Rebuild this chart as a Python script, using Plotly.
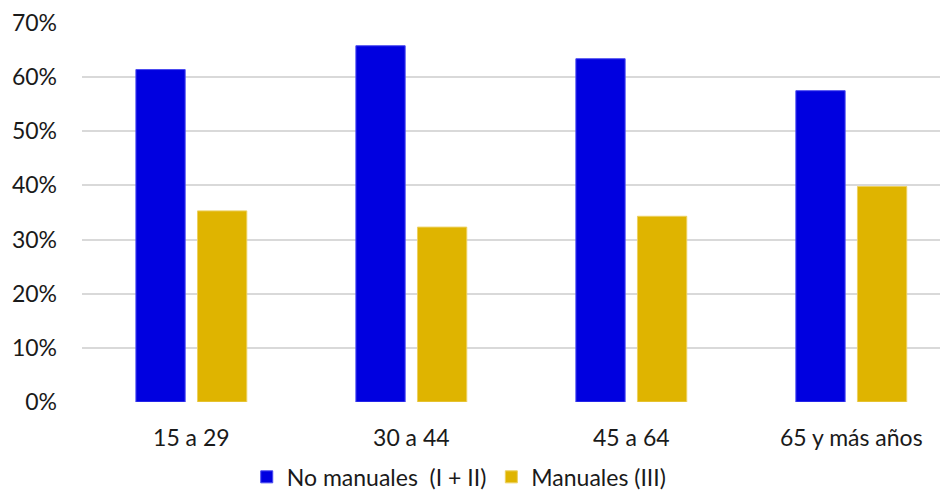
import plotly.graph_objects as go

categories = ["15 a 29", "30 a 44", "45 a 64", "65 y más años"]
no_manuales = [61.4, 65.8, 63.4, 57.5]
manuales = [35.3, 32.3, 34.3, 39.8]
series_names = ["No manuales  (I + II)", "Manuales (III)"]
y_ticks = [0, 10, 20, 30, 40, 50, 60, 70]
y_tick_labels = [f"{v}%" for v in y_ticks]

BLUE = "#0000E0"
GOLD = "#DFB400"
FONT = "Lato, 'Open Sans', sans-serif"

fig = go.Figure()
fig.add_trace(go.Bar(x=categories, y=no_manuales, name=series_names[0],
                     marker=dict(color=BLUE, line=dict(color="#4a4af0", width=1))))
fig.add_trace(go.Bar(x=categories, y=manuales, name=series_names[1],
                     marker=dict(color=GOLD, line=dict(color="#ecd060", width=1))))

# page body has an 8px margin: compensate so the plot lands where the reference has it
fig.update_layout(
    width=948, height=491,
    margin=dict(l=74, r=0, t=15, b=97, autoexpand=False),
    paper_bgcolor="white", plot_bgcolor="white",
    font=dict(family=FONT, size=23, color="#1a1a1a"),
    barmode="group", bargap=0.44, bargroupgap=0.2,
    showlegend=True,
    legend=dict(orientation="h", xref="container", yref="container",
                x=0.476, xanchor="center", y=0.045, yanchor="middle",
                font=dict(size=23), itemwidth=30, traceorder="normal"),
    xaxis=dict(range=[-0.497, 3.476], showgrid=False, zeroline=False,
               showline=False, ticks="", ticklabelstandoff=20,
               automargin=False),
    yaxis=dict(range=[0, 70], tickmode="array", tickvals=y_ticks,
               ticktext=y_tick_labels,
               showgrid=True, gridcolor="#D9D9D9", gridwidth=2,
               zeroline=False, showline=False, ticks="",
               ticklabelstandoff=24, automargin=False),
)

fig.write_html("out.html")
